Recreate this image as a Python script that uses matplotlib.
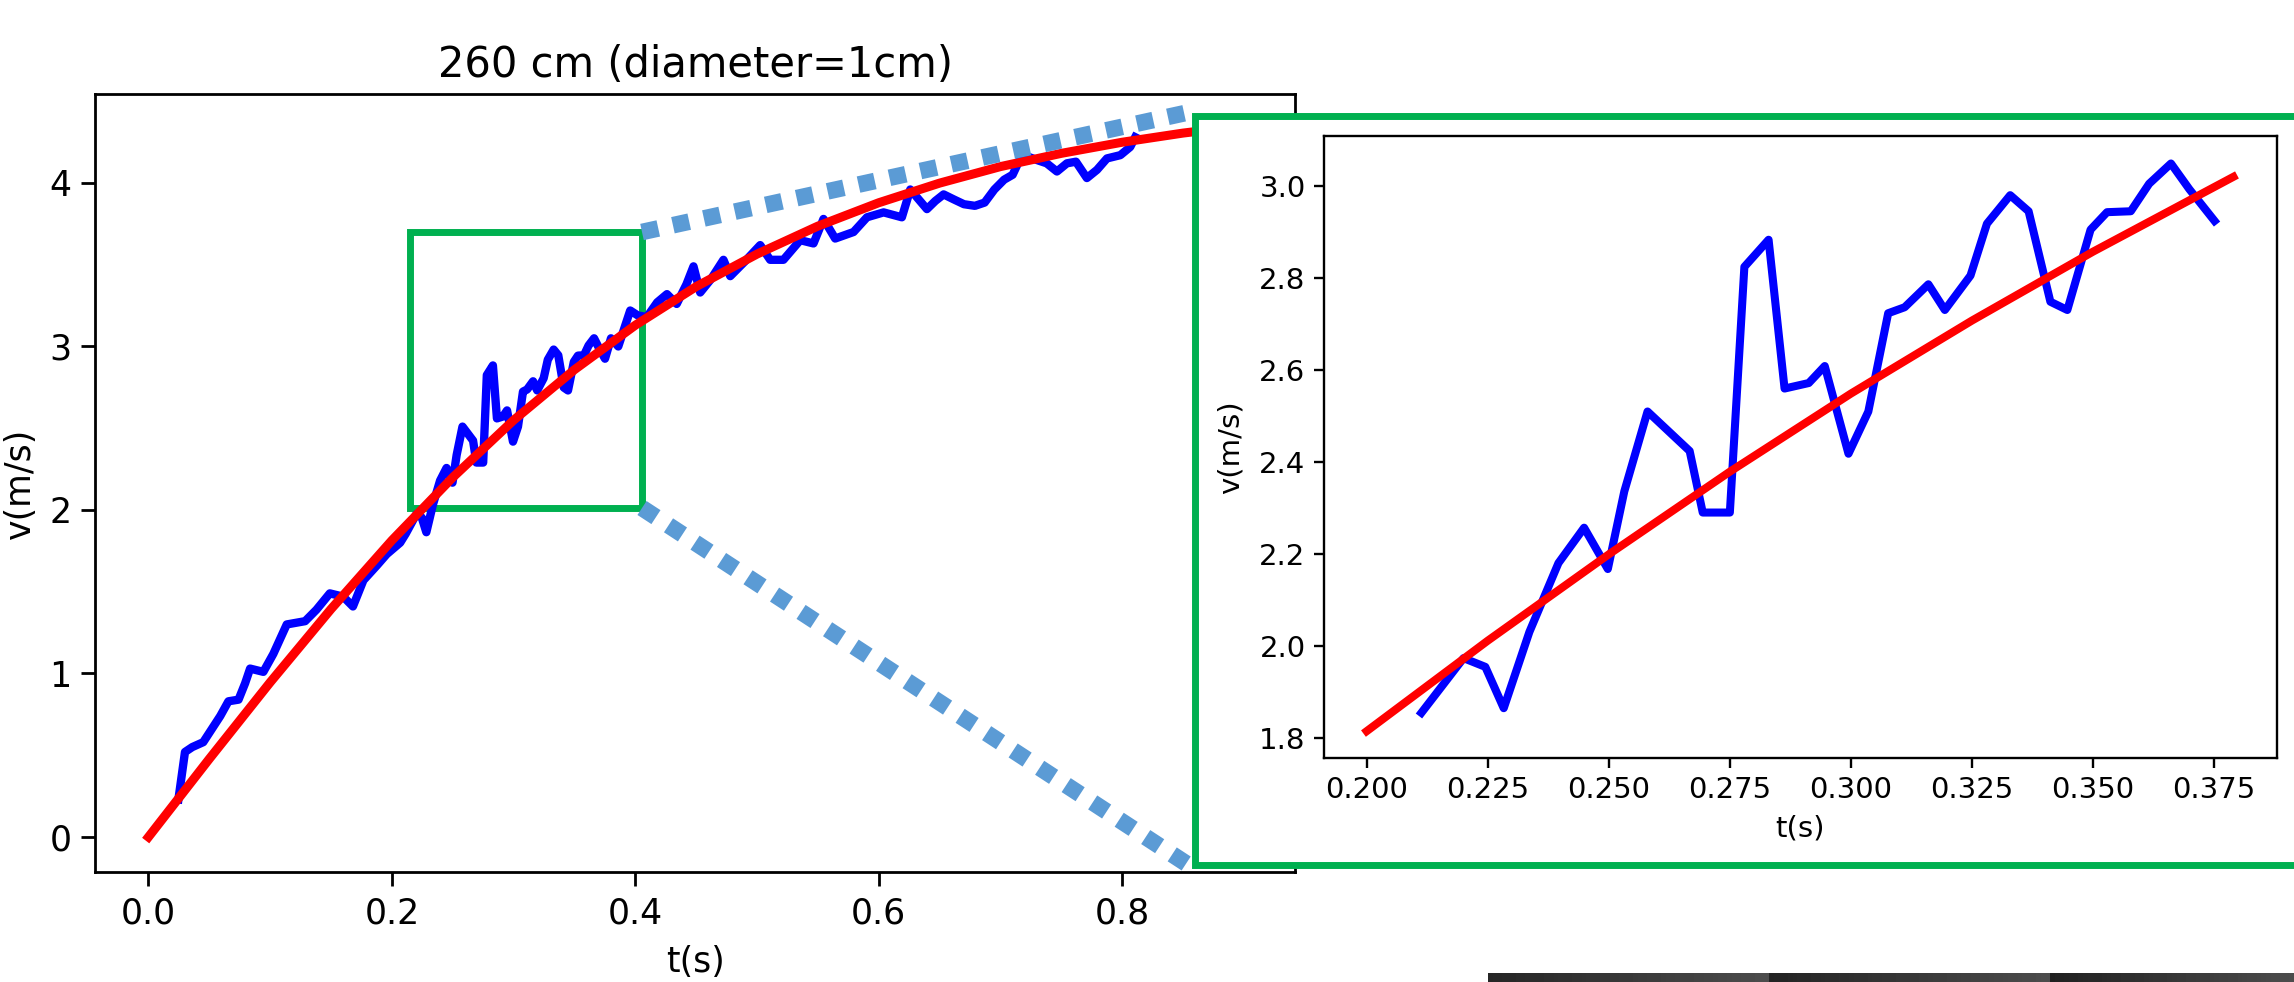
import numpy as np
import matplotlib
matplotlib.use("Agg")
from matplotlib import pyplot as plt
from matplotlib.patches import Rectangle
from matplotlib.lines import Line2D

t_meas = [0.0246, 0.0300, 0.0360, 0.0450, 0.0520, 0.0590, 0.0657, 0.0740, 0.0794, 0.0835,
          0.0944, 0.1026, 0.1136, 0.1287, 0.1380, 0.1490, 0.1600, 0.1680, 0.1766, 0.1876,
          0.1958, 0.2068,
          0.2113, 0.2200, 0.2245, 0.2283, 0.2336, 0.2396, 0.2449, 0.2498, 0.2532, 0.2580,
          0.2667, 0.2694, 0.2750, 0.2780, 0.2830, 0.2863, 0.2913, 0.2946, 0.2995, 0.3036,
          0.3077, 0.3111, 0.3160, 0.3194, 0.3247, 0.3281, 0.3329, 0.3367, 0.3412, 0.3447,
          0.3495, 0.3529, 0.3578, 0.3616, 0.3661, 0.3699, 0.3751,
          0.3800, 0.3860, 0.3958, 0.4020, 0.4095, 0.4180, 0.4260, 0.4340, 0.4420, 0.4478,
          0.4533, 0.4620, 0.4724, 0.4780, 0.4900, 0.5026, 0.5108, 0.5217, 0.5355, 0.5464,
          0.5546, 0.5642, 0.5793, 0.5903, 0.6040, 0.6190, 0.6259, 0.6396, 0.6465, 0.6533,
          0.6615, 0.6700, 0.6790, 0.6870, 0.6950, 0.7030, 0.7100, 0.7163, 0.7230, 0.7300,
          0.7380, 0.7464, 0.7546, 0.7620, 0.7710, 0.7793, 0.7875, 0.7985, 0.8066, 0.8107]
v_meas = [0.23, 0.52, 0.55, 0.58, 0.66, 0.74, 0.83, 0.84, 0.94, 1.03,
          1.01, 1.12, 1.30, 1.32, 1.39, 1.49, 1.47, 1.41, 1.57, 1.66,
          1.73, 1.80,
          1.854, 1.973, 1.954, 1.864, 2.03, 2.18, 2.257, 2.167, 2.336, 2.51,
          2.424, 2.29, 2.29, 2.825, 2.884, 2.56, 2.572, 2.609, 2.418, 2.51,
          2.724, 2.737, 2.787, 2.731, 2.806, 2.919, 2.981, 2.946, 2.749, 2.731,
          2.906, 2.944, 2.946, 3.006, 3.05, 2.994, 2.925,
          3.05, 3.00, 3.22, 3.19, 3.18, 3.27, 3.32, 3.26, 3.38, 3.49,
          3.33, 3.41, 3.53, 3.43, 3.52, 3.62, 3.53, 3.53, 3.65, 3.63,
          3.78, 3.66, 3.70, 3.79, 3.82, 3.79, 3.96, 3.84, 3.89, 3.93,
          3.90, 3.87, 3.86, 3.88, 3.96, 4.02, 4.05, 4.15, 4.16, 4.14,
          4.12, 4.07, 4.12, 4.13, 4.03, 4.08, 4.15, 4.17, 4.22, 4.28]

# fitted curve
t_fit = [0.00, 0.05, 0.10, 0.15, 0.20, 0.25, 0.30, 0.35, 0.40, 0.45,
         0.50, 0.55, 0.60, 0.65, 0.70, 0.75, 0.80, 0.85, 0.90]
v_fit = [0.000, 0.478, 0.946, 1.394, 1.814, 2.199, 2.549, 2.858, 3.130, 3.366,
         3.565, 3.736, 3.879, 3.999, 4.100, 4.181, 4.249, 4.305, 4.350]

# zoomed fit segment
t_fit_zoom = [0.200, 0.225, 0.250, 0.275, 0.300, 0.325, 0.350, 0.379]
v_fit_zoom = [1.814, 2.011, 2.199, 2.379, 2.549, 2.708, 2.858, 3.021]
t_lo, t_hi = 0.2113, 0.3751

W, H = 2294, 982
fig = plt.figure(figsize=(W / 100, H / 100), dpi=100)
fig.patch.set_facecolor('white')


def px(x0, y0, x1, y1):
    # pixel box -> figure fraction [left, bottom, width, height]
    return [x0 / W, 1 - y1 / H, (x1 - x0) / W, (y1 - y0) / H]


green = '#00B050'
dot_blue = '#5B9BD5'

# main plot
ax = fig.add_axes(px(95.4, 94, 1295, 872))
ax.plot(t_meas, v_meas, c='b', lw=6)
ax.plot(t_fit, v_fit, c='r', lw=6.5)
ax.set_xlim(-0.0436, 0.942)
ax.set_ylim(-0.214, 4.544)
ax.set_xticks([0.0, 0.2, 0.4, 0.6, 0.8])
ax.set_yticks([0, 1, 2, 3, 4])
ax.set_title('260 cm (diameter=1cm)', fontsize=30, pad=12)
ax.set_xlabel('t(s)', fontsize=25, labelpad=10)
ax.set_ylabel('v(m/s)', fontsize=25)
ax.yaxis.set_label_coords(-0.049, 0.5)
ax.tick_params(labelsize=25, width=2, length=10)
ax.tick_params(axis='x', pad=8)
ax.tick_params(axis='y', pad=7)
for s in ax.spines.values():
    s.set_linewidth(2)
ax.add_patch(Rectangle((0.215, 2.01), 0.1905, 1.688, fill=False, ec=green, lw=5, zorder=1.5))

# dotted connectors
for (x0, y0), (x1, y1) in [((642, 232), (1190, 112)), ((642, 508), (1190, 866))]:
    fig.add_artist(Line2D([x0 / W, x1 / W], [1 - y0 / H, 1 - y1 / H], transform=fig.transFigure,
                          color=dot_blue, lw=12, linestyle=(0, (1, 0.9)),
                          dash_capstyle='butt', zorder=2))

# frame of the zoomed view
fig.add_artist(Rectangle((1195 / W, 1 - 865 / H), 1.1, (865 - 116) / H, transform=fig.transFigure,
                         facecolor='white', edgecolor=green, lw=5, zorder=3))

# zoomed view
ax2 = fig.add_axes(px(1323.6, 136.4, 2277, 757.8))
ax2.set_zorder(4)
sel = [(t, v) for t, v in zip(t_meas, v_meas) if t_lo <= t <= t_hi]
ax2.plot([p[0] for p in sel], [p[1] for p in sel], c='b', lw=5.8)
ax2.plot(t_fit_zoom, v_fit_zoom, c='r', lw=5.8)
ax2.set_xlim(0.1911, 0.388)
ax2.set_ylim(1.756, 3.109)
ax2.set_xticks([0.200, 0.225, 0.250, 0.275, 0.300, 0.325, 0.350, 0.375])
ax2.set_xticklabels(['0.200', '0.225', '0.250', '0.275', '0.300', '0.325', '0.350', '0.375'])
ax2.set_yticks([1.8, 2.0, 2.2, 2.4, 2.6, 2.8, 3.0])
ax2.set_xlabel('t(s)', fontsize=21, labelpad=8)
ax2.set_ylabel('v(m/s)', fontsize=21)
ax2.yaxis.set_label_coords(-0.0824, 0.5)
ax2.tick_params(labelsize=21, width=1.7, length=7, pad=6)
for s in ax2.spines.values():
    s.set_linewidth(1.7)

# dark strip at the bottom right
axb = fig.add_axes(px(1488, 973, 2294, 982))
grad = np.concatenate([np.linspace(0.15, 0.3, 60), np.linspace(0.14, 0.3, 60), np.linspace(0.13, 0.3, 52)])
axb.imshow(grad[None, :], cmap='gray', vmin=0, vmax=1, aspect='auto')
axb.set_axis_off()

fig.savefig('out.png', dpi=100)
